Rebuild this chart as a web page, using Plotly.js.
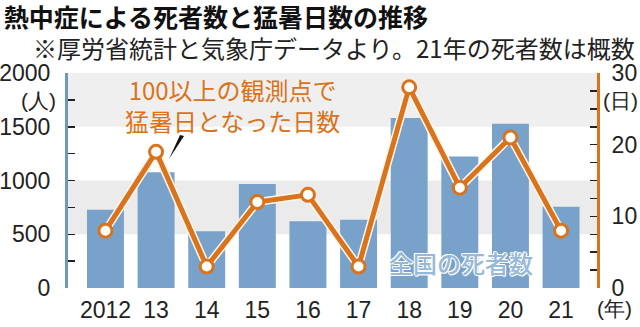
<!DOCTYPE html>
<html><head><meta charset="utf-8">
<script src="https://cdn.plot.ly/plotly-3.0.1.min.js"></script>
<style>html,body{margin:0;padding:0;background:#fff;}#chart{width:640px;height:327px;}</style>
</head><body><div id="chart"></div>
<script>
const years = ['2012','13','14','15','16','17','18','19','20','21'];
const deaths = [727,1077,529,968,621,635,1581,1224,1528,755];
const hotDays = [8,19,3,12,13,3,28,14,21,8];
const leftTicks = [0,500,1000,1500,2000];
const rightTicks = [0,10,20,30];

const ORANGE = '#d9731c';
const BLUE = '#78a2c9';
const NUM_FONT = 'Liberation Sans, Arial, sans-serif';
const JP_FONT = 'Noto Sans CJK JP, sans-serif';
const numFont = (s) => ({family:NUM_FONT, size:s, color:'#222'});

const traces = [
  {type:'bar', x:years, y:deaths, marker:{color:BLUE}, width:0.73, hoverinfo:'skip', yaxis:'y'},
  {type:'scatter', mode:'lines', x:years, y:hotDays, yaxis:'y2', line:{color:'#fff6ee', width:8}, hoverinfo:'skip'},
  {type:'scatter', mode:'lines+markers', x:years, y:hotDays, yaxis:'y2',
   line:{color:ORANGE, width:5},
   marker:{size:13, color:'#ffffff', line:{color:ORANGE, width:3}}, hoverinfo:'skip'}
];

const layout = {
  width:640, height:327,
  margin:{l:68, r:43, t:73, b:39},
  paper_bgcolor:'#ffffff', plot_bgcolor:'rgba(0,0,0,0)',
  showlegend:false,
  title:{text:'<b>熱中症による死者数と猛暑日数の推移</b>', x:0.006, xanchor:'left', xref:'container',
         y:0.945, yanchor:'middle', yref:'container', font:{family:JP_FONT, size:25, color:'#111'}},
  xaxis:{type:'category', range:[-0.74, 9.71], showline:false, ticks:'', showgrid:false, zeroline:false,
         ticklabelstandoff:6, tickfont:numFont(23), fixedrange:true},
  yaxis:{range:[0,2000], tickvals:leftTicks, ticks:'inside', ticklen:7, tickwidth:1.5, tickcolor:'#222',
         minor:{dtick:250, ticks:'inside', ticklen:7, tickwidth:1.5, tickcolor:'#222'},
         showline:true, linecolor:'#6f98bf', linewidth:3, showgrid:false, zeroline:false,
         ticklabelstandoff:10, tickfont:numFont(23)},
  yaxis2:{range:[0,30], overlaying:'y', side:'right', tickvals:rightTicks, ticks:'inside', ticklen:7, tickwidth:1.5, tickcolor:'#222',
         minor:{dtick:2.5, ticks:'inside', ticklen:7, tickwidth:1.5, tickcolor:'#222'},
         showline:true, linecolor:ORANGE, linewidth:3, showgrid:false, zeroline:false,
         ticklabelstandoff:7, tickfont:numFont(23)},
  shapes:[
    {type:'rect', xref:'paper', x0:0, x1:1, yref:'y', y0:500, y1:1000, fillcolor:'#ebebeb', line:{width:0}, layer:'below'},
    {type:'rect', xref:'paper', x0:0, x1:1, yref:'y', y0:1500, y1:2000, fillcolor:'#efefef', line:{width:0}, layer:'below'},
    {type:'path', xref:'paper', yref:'paper', path:'M 0.191 0.600 L 0.2117 0.7116 L 0.2193 0.707 Z', fillcolor:'#111', line:{width:0}}
  ],
  annotations:[
    {text:'※厚労省統計と気象庁データより。21年の死者数は概数', xref:'paper', yref:'paper', x:1.075, y:1.118, xanchor:'right', yanchor:'middle',
     showarrow:false, font:{family:JP_FONT, size:24, color:'#222'}},
    {text:'(人)', xref:'paper', yref:'paper', x:-0.018, y:0.87, xanchor:'right', yanchor:'middle', showarrow:false,
     font:numFont(21)},
    {text:'(日)', xref:'paper', yref:'paper', x:1.008, y:0.87, xanchor:'left', yanchor:'middle', showarrow:false,
     font:numFont(21)},
    {text:'(年)', xref:'paper', yref:'paper', x:1.07, y:-0.095, xanchor:'right', yanchor:'middle', showarrow:false,
     font:numFont(21)},
    {text:'100以上の観測点で<br>猛暑日となった日数', xref:'paper', yref:'paper', x:0.311, y:0.853, xanchor:'center', yanchor:'middle',
     showarrow:false, align:'center', font:{family:JP_FONT, size:24, color:ORANGE}},
    {text:'全国の死者数', xref:'paper', yref:'paper', x:0.743, y:0.12, xanchor:'center', yanchor:'middle', showarrow:false,
     font:{family:JP_FONT, size:24, weight:500, color:'#97b8d8', shadow:'1px 0 0 #fff, -1px 0 0 #fff, 0 1px 0 #fff, 0 -1px 0 #fff, 1px 1px 0 #fff, -1px -1px 0 #fff'}}
  ]
};

Plotly.newPlot('chart', traces, layout, {staticPlot:true, displayModeBar:false});
</script></body></html>
